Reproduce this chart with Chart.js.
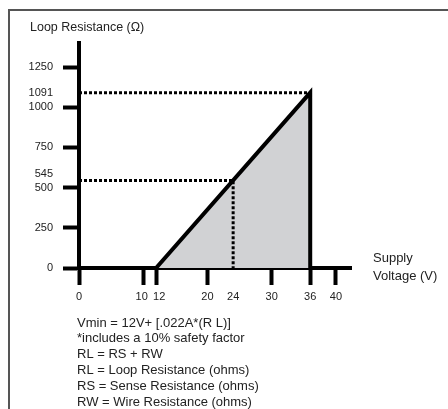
<!DOCTYPE html>
<html>
<head>
<meta charset="utf-8">
<title>Loop Resistance vs Supply Voltage</title>
<script src="https://cdn.jsdelivr.net/npm/chart.js@4/dist/chart.umd.min.js"></script>
<style>
    html, body { margin: 0; padding: 0; background: #fff; overflow: hidden; }
    #wrap { position: relative; width: 448px; height: 409px; overflow: hidden; }
    #frame { position: absolute; left: 8px; top: 9px; width: 460px; height: 420px;
             border-top: 2px solid #555; border-left: 2px solid #555; }
    #chart_canvas { position: absolute; left: 0; top: 0; }
</style>
</head>
<body>
<div id="wrap">
    <div id="frame"></div>
    <canvas id="chart_canvas" width="448" height="409"></canvas>
</div>
<script>
// Chart data
const xTicks = [0, 10, 12, 20, 24, 30, 36, 40];
const xTickMarks = [0, 10, 12, 20, 30, 36, 40];
const yTicks = [0, 250, 500, 545, 750, 1000, 1091, 1250];
const yTickMarks = [0, 250, 500, 750, 1000, 1250];

// operating region: Vmin line from 12V up to 36V
const regionX = [12, 36, 36];
const regionY = [0, 1091, 0];

// dotted guide lines
const guideMaxX = [0, 36];
const guideMaxY = [1091, 1091];
const guide24X = [0, 24, 24];
const guide24Y = [545, 545, 0];

const yTitle = "Loop Resistance (Ω)";
const xTitle = ["Supply", "Voltage (V)"];
const notes = [
    "Vmin = 12V+ [.022A*(R L)]",
    "*includes a 10% safety factor",
    "RL = RS + RW",
    "RL = Loop Resistance (ohms)",
    "RS = Sense Resistance (ohms)",
    "RW = Wire Resistance (ohms)"
];

function toPoints(xs, ys) {
    return xs.map((x, i) => ({ x: x, y: ys[i] }));
}

const FONT = "'Liberation Sans', Arial, sans-serif";
Chart.defaults.font.family = FONT;
Chart.defaults.color = "#222";

// extra texts (axis titles + notes)
const textPlugin = {
    id: 'textPlugin',
    afterDraw(chart) {
        const ctx = chart.ctx;
        ctx.save();
        ctx.fillStyle = "#222";
        ctx.textAlign = "left";
        ctx.textBaseline = "middle";
        ctx.font = "12.5px " + FONT;
        ctx.fillText(yTitle, 30, 28);
        ctx.font = "13px " + FONT;
        xTitle.forEach((t, i) => ctx.fillText(t, 373, 258 + i * 18.5));
        notes.forEach((t, i) => ctx.fillText(t, 77, 323 + i * 15.8));
        ctx.restore();
    }
};

let loop_chart = new Chart(document.getElementById('chart_canvas'), {
    type: 'line',
    data: {
        datasets: [
            {
                label: "max",
                data: toPoints(guideMaxX, guideMaxY),
                borderColor: "#000",
                borderWidth: 3,
                borderDash: [3, 2],
                pointRadius: 0,
                fill: false
            },
            {
                label: "24V",
                data: toPoints(guide24X, guide24Y),
                borderColor: "#000",
                borderWidth: 3,
                borderDash: [3, 2],
                pointRadius: 0,
                fill: false
            },
            {
                label: "region",
                data: toPoints(regionX, regionY),
                borderColor: "#000",
                borderWidth: 4,
                borderJoinStyle: 'miter',
                backgroundColor: "#d1d2d4",
                pointRadius: 0,
                fill: 'origin'
            }
        ]
    },
    options: {
        responsive: false,
        devicePixelRatio: 1,
        animation: false,
        layout: { padding: { left: 0, right: 97, top: 43, bottom: 0 } },
        plugins: {
            legend: { display: false },
            tooltip: { enabled: false }
        },
        scales: {
            x: {
                type: 'linear',
                min: 0,
                max: 42.35,
                z: 1,
                afterFit: (scale) => { scale.height = 141; },
                afterBuildTicks: (scale) => { scale.ticks = xTicks.map(v => ({ value: v })); },
                border: { display: true, color: "#000", width: 4 },
                grid: {
                    drawOnChartArea: false,
                    drawTicks: true,
                    tickLength: 17,
                    tickWidth: 4,
                    tickColor: (ctx) => xTickMarks.includes(ctx.tick.value) ? "#000" : "rgba(0,0,0,0)"
                },
                ticks: {
                    autoSkip: false,
                    maxRotation: 0,
                    padding: 5,
                    font: { size: 11 },
                    // 10 and 12 are close together, push the two labels apart a bit
                    callback: (v) => v == 10 ? "10 " : (v == 12 ? "  12" : String(v))
                }
            },
            y: {
                type: 'linear',
                min: 0,
                max: 1400,
                z: 1,
                afterFit: (scale) => { scale.width = 79; },
                afterBuildTicks: (scale) => { scale.ticks = yTicks.map(v => ({ value: v })); },
                border: { display: true, color: "#000", width: 4 },
                grid: {
                    drawOnChartArea: false,
                    drawTicks: true,
                    tickLength: 16,
                    tickWidth: 4,
                    tickColor: (ctx) => yTickMarks.includes(ctx.tick.value) ? "#000" : "rgba(0,0,0,0)"
                },
                ticks: {
                    autoSkip: false,
                    padding: 10,
                    font: { size: 11 },
                    // 545 sits close to 500, lift its label a little
                    callback: (v) => v == 545 ? ["545", ""] : String(v)
                }
            }
        }
    },
    plugins: [textPlugin]
});
</script>
</body>
</html>
